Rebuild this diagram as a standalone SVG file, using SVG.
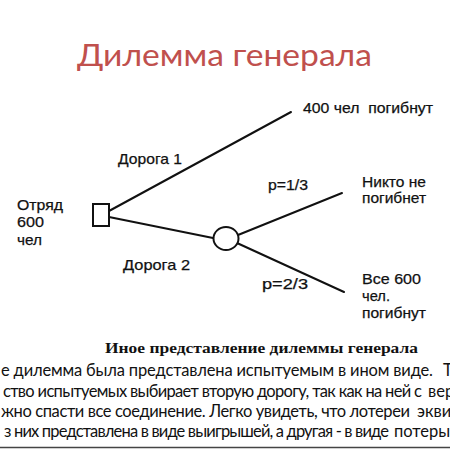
<svg xmlns="http://www.w3.org/2000/svg" width="450" height="450" viewBox="0 0 450 450">
  <style>
    .lbl { font-family: "Liberation Sans", Arial, sans-serif; font-size: 15px; fill: #111; white-space: pre; stroke: #111; stroke-width: 0.25; }
    .edge { stroke: #111; stroke-width: 2; fill: none; stroke-linecap: round; }
    .shape { stroke: #111; stroke-width: 2; fill: #fff; }
    .body { font-family: Lato, "Open Sans", sans-serif; font-size: 16.5px; fill: #111; }
    .title { font-family: Lato, "Open Sans", sans-serif; font-size: 31px; fill: #C0504D; }
    .cap { font-family: "Liberation Serif", "Times New Roman", serif; font-size: 14.5px; font-weight: bold; fill: #111; }
  </style>
  <rect width="450" height="450" fill="#fff"/>
  <text class="title" x="77" y="66" textLength="295" lengthAdjust="spacingAndGlyphs">Дилемма генерала</text>

  <g id="connectors">
    <line class="edge" x1="109" y1="211" x2="291" y2="112"/>
    <line class="edge" x1="109" y1="217" x2="213" y2="238"/>
    <line class="edge" x1="238" y1="235" x2="342" y2="193"/>
    <line class="edge" x1="237" y1="243" x2="344" y2="292"/>
    <text class="lbl" x="118" y="164" textLength="64" lengthAdjust="spacingAndGlyphs">Дорога 1</text>
    <text class="lbl" x="123" y="270" textLength="67" lengthAdjust="spacingAndGlyphs">Дорога 2</text>
    <text class="lbl" x="268" y="190" textLength="40" lengthAdjust="spacingAndGlyphs">p=1/3</text>
    <text class="lbl" x="262" y="289" textLength="46" lengthAdjust="spacingAndGlyphs">p=2/3</text>
  </g>

  <g id="start">
    <rect class="shape" x="93" y="204" width="16" height="22"/>
    <text class="lbl" x="17" y="210" textLength="46" lengthAdjust="spacingAndGlyphs">Отряд</text>
    <text class="lbl" x="17" y="227" textLength="27" lengthAdjust="spacingAndGlyphs">600</text>
    <text class="lbl" x="17" y="245" textLength="25" lengthAdjust="spacingAndGlyphs">чел</text>
  </g>

  <g id="chance">
    <ellipse class="shape" cx="226" cy="238.5" rx="12.5" ry="11.5"/>
  </g>

  <g id="outcome1">
    <text class="lbl" x="303" y="113" textLength="130" lengthAdjust="spacingAndGlyphs">400 чел  погибнут</text>
  </g>

  <g id="outcome2">
    <text class="lbl" x="362" y="187" textLength="64" lengthAdjust="spacingAndGlyphs">Никто не</text>
    <text class="lbl" x="362" y="203" textLength="64" lengthAdjust="spacingAndGlyphs">погибнет</text>
  </g>

  <g id="outcome3">
    <text class="lbl" x="362" y="284" textLength="59" lengthAdjust="spacingAndGlyphs">Все 600</text>
    <text class="lbl" x="362" y="301" textLength="28" lengthAdjust="spacingAndGlyphs">чел.</text>
    <text class="lbl" x="362" y="318" textLength="64" lengthAdjust="spacingAndGlyphs">погибнут</text>
  </g>

  <text class="cap" x="105" y="353" textLength="313" lengthAdjust="spacingAndGlyphs">Иное представление дилеммы генерала</text>

  <g id="body">
    <text class="body" x="1" y="376" textLength="432">е дилемма была представлена испытуемым в ином виде.</text>
    <text class="body" x="443" y="376">Те</text>
    <text class="body" x="3" y="397" textLength="419">ство испытуемых выбирает вторую дорогу, так как на ней с</text>
    <text class="body" x="428" y="397">веро</text>
    <text class="body" x="1" y="417" textLength="409">жно спасти все соединение. Легко увидеть, что лотереи</text>
    <text class="body" x="417" y="417">экви</text>
    <text class="body" x="4" y="437" textLength="385">з них представлена в виде выигрышей, а другая - в виде</text>
    <text class="body" x="394" y="437">потеры</text>
  </g>
  <line x1="0" y1="447.5" x2="450" y2="447.5" stroke="#444" stroke-width="1.5"/>
</svg>
